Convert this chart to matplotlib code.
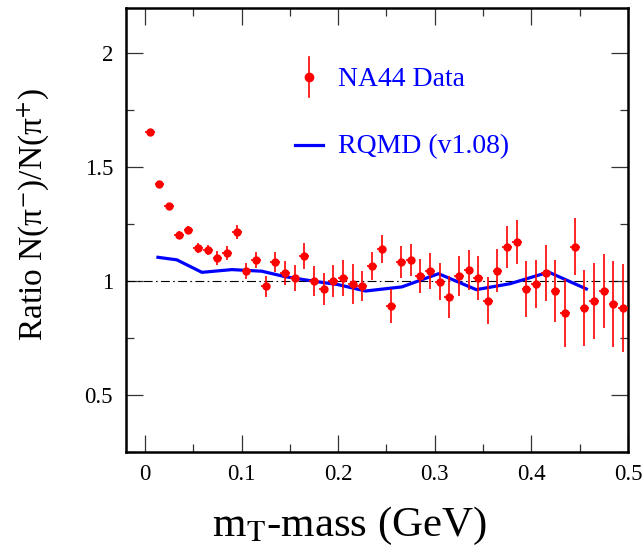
import numpy as np
import matplotlib
matplotlib.use("Agg")
import matplotlib.pyplot as plt
from matplotlib.ticker import MultipleLocator

plt.rcParams['font.family'] = ['Liberation Serif', 'DejaVu Serif']
plt.rcParams['mathtext.fontset'] = 'stix'

# NA44 pi-/pi+ ratio vs mT - m (bins of 10 MeV)
mt = np.arange(50) * 0.01 + 0.005
ratio = [1.654, 1.427, 1.330, 1.202, 1.224, 1.147, 1.137, 1.102, 1.121, 1.215,
         1.044, 1.093, 0.976, 1.085, 1.035, 1.013, 1.110, 0.998, 0.965, 1.000,
         1.013, 0.985, 0.976, 1.066, 1.140, 0.890, 1.083, 1.093, 1.022, 1.044,
         0.997, 0.930, 1.022, 1.050, 1.013, 0.914, 1.046, 1.149, 1.172, 0.966,
         0.986, 1.035, 0.957, 0.860, 1.150, 0.882, 0.914, 0.957, 0.899, 0.882]
ratio_err = [0.004, 0.007, 0.009, 0.018, 0.018, 0.022, 0.022, 0.031, 0.031, 0.031,
             0.035, 0.035, 0.048, 0.044, 0.053, 0.057, 0.057, 0.066, 0.070, 0.070,
             0.079, 0.088, 0.066, 0.061, 0.061, 0.075, 0.070, 0.070, 0.075, 0.079,
             0.081, 0.092, 0.088, 0.088, 0.096, 0.105, 0.096, 0.094, 0.096, 0.123,
             0.105, 0.121, 0.136, 0.149, 0.125, 0.167, 0.167, 0.162, 0.189, 0.193]
mt_err = 0.005

# RQMD (v1.08) curve
rqmd_x = [0.0135, 0.033, 0.059, 0.090, 0.121, 0.145, 0.175, 0.200, 0.2285,
          0.266, 0.304, 0.343, 0.378, 0.418, 0.457]
rqmd_y = [1.104, 1.093, 1.038, 1.050, 1.043, 1.019, 0.999, 0.984, 0.956,
          0.974, 1.032, 0.962, 0.988, 1.039, 0.965]

fig = plt.figure(figsize=(6.44, 5.57), dpi=100)
ax = fig.add_axes([0.195, 0.189, 0.78, 0.797])

ax.axhline(1.0, color='black', lw=0.8, dashes=(8, 3, 1.5, 3))
ax.plot(rqmd_x, rqmd_y, color='#0000ff', lw=2.3, zorder=3)
ax.errorbar(mt, ratio, yerr=ratio_err, xerr=mt_err, fmt='o', color='#ff0000',
            ms=5, elinewidth=1.2, capsize=0, zorder=4)

# legend drawn by hand
ax.plot([0.3655, 0.3655], [0.800, 0.890], color='#ff0000', lw=1.2,
        transform=ax.transAxes)
ax.plot([0.3655], [0.845], 'o', color='#ff0000', ms=6, transform=ax.transAxes)
ax.text(0.423, 0.838, 'NA44 Data', color='#0000ff', fontsize=20,
        va='center', ha='left', transform=ax.transAxes)
ax.plot([0.337, 0.394], [0.691, 0.691], color='#0000ff', lw=2.3,
        transform=ax.transAxes)
ax.text(0.423, 0.687, 'RQMD (v1.08)', color='#0000ff', fontsize=20,
        va='center', ha='left', transform=ax.transAxes)

ax.set_xlim(-0.02, 0.5)
ax.set_ylim(0.25, 2.2)
ax.xaxis.set_minor_locator(MultipleLocator(0.05))
ax.yaxis.set_minor_locator(MultipleLocator(0.25))
ax.set_xticks([0, 0.1, 0.2, 0.3, 0.4, 0.5])
ax.set_xticklabels(['0', '0.1', '0.2', '0.3', '0.4', '0.5'])
ax.set_yticks([0.5, 1, 1.5, 2])
ax.set_yticklabels(['0.5', '1', '1.5', '2'])
ax.tick_params(which='both', direction='in', top=True, right=True,
               labelsize=16.5, width=0.9, color='#333333')
ax.tick_params(which='major', length=12.5, pad=9)
ax.tick_params(which='minor', length=6)
for s in ax.spines.values():
    s.set_linewidth(1.8)

ax.set_xlabel(r'm$_{\mathrm{T}}$-mass (GeV)', fontsize=31, labelpad=14, x=0.447)
ax.set_ylabel(r'Ratio N(π$^{-}$)/N(π$^{+}$)', fontsize=24, labelpad=24, y=0.535)

fig.savefig('out.png', dpi=100)
